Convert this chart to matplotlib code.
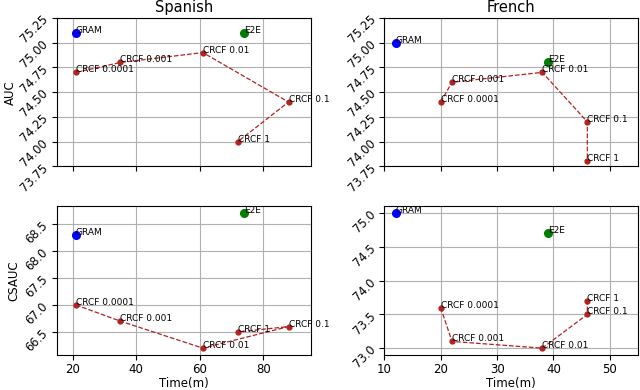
import matplotlib
matplotlib.use("Agg")
import matplotlib.pyplot as plt
from matplotlib.ticker import MultipleLocator

labels = ["CRCF 0.0001", "CRCF 0.001", "CRCF 0.01", "CRCF 0.1", "CRCF 1"]

es_time = [21, 35, 61, 88, 72]
es_auc = [74.7, 74.8, 74.9, 74.4, 74.0]
es_csauc = [67.0, 66.7, 66.2, 66.6, 66.5]
es_gram = (21, 75.1, 68.3)
es_e2e = (74, 75.1, 68.7)

fr_time = [20, 22, 38, 46, 46]
fr_auc = [74.4, 74.6, 74.7, 74.2, 73.8]
fr_csauc = [73.6, 73.1, 73.0, 73.5, 73.7]
fr_gram = (12, 75.0, 75.0)
fr_e2e = (39, 74.8, 74.7)

plt.rcParams['font.size'] = 8.5

fig, axes = plt.subplots(2, 2, figsize=(6.4, 3.9), dpi=100, sharex='col')
fig.subplots_adjust(left=0.089, right=0.997, top=0.954, bottom=0.09, wspace=0.29, hspace=0.27)

def panel(ax, t, vals, gram, e2e, gi):
    ax.plot(t, vals, '--', color='firebrick', lw=0.9, marker='o', ms=3.5, zorder=3)
    for x, y, l in zip(t, vals, labels):
        ax.annotate(l, (x, y), fontsize=6.5, zorder=4)
    ax.plot([gram[0]], [gram[gi]], 'o', color='blue', ms=5.5, zorder=3)
    ax.annotate("GRAM", (gram[0], gram[gi]), fontsize=6.5)
    ax.plot([e2e[0]], [e2e[gi]], 'o', color='green', ms=5.5, zorder=3)
    ax.annotate("E2E", (e2e[0], e2e[gi]), fontsize=6.5)
    ax.grid(True)
    ax.tick_params(axis='y', labelrotation=45, labelsize=8.3, pad=1)
    ax.tick_params(axis='x', labelsize=8.5, pad=2)

panel(axes[0, 0], es_time, es_auc, es_gram, es_e2e, 1)
panel(axes[1, 0], es_time, es_csauc, es_gram, es_e2e, 2)
panel(axes[0, 1], fr_time, fr_auc, fr_gram, fr_e2e, 1)
panel(axes[1, 1], fr_time, fr_csauc, fr_gram, fr_e2e, 2)

for ax in (axes[0, 0], axes[0, 1]):
    ax.set_ylim(73.75, 75.25)
    ax.yaxis.set_major_locator(MultipleLocator(0.25))
for ax in (axes[1, 0], axes[1, 1]):
    ax.yaxis.set_major_locator(MultipleLocator(0.5))
axes[1, 0].set_xlim(15, 95)
axes[1, 1].set_xlim(10, 55)
axes[1, 0].set_xticks([20, 40, 60, 80])
axes[1, 1].set_xticks([10, 20, 30, 40, 50])

axes[0, 0].set_title("Spanish", fontsize=10.5, pad=4)
axes[0, 1].set_title("French", fontsize=10.5, pad=4)
axes[0, 0].set_ylabel("AUC", fontsize=8.5, labelpad=1)
axes[1, 0].set_ylabel("CSAUC", fontsize=8.5, labelpad=2)
axes[1, 0].set_xlabel("Time(m)", fontsize=8.5, labelpad=1)
axes[1, 1].set_xlabel("Time(m)", fontsize=8.5, labelpad=1)

fig.savefig("out.png", dpi=100)
